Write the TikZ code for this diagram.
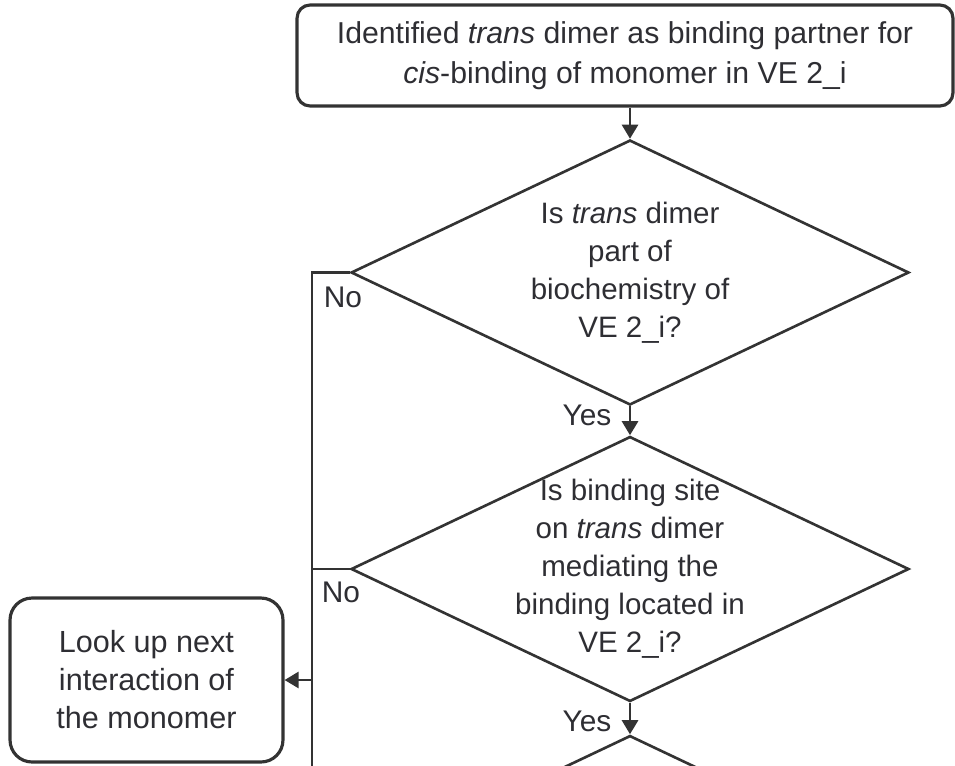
\documentclass[tikz,border=0pt]{standalone}
\usepackage{fontspec}
\setmainfont{Liberation Sans}
\usetikzlibrary{shapes.geometric,arrows.meta}

\begin{document}
\begin{tikzpicture}[x=0.02cm, y=-0.02cm, >={Triangle[width=0.32cm,length=0.28cm]},
		box/.style={draw=linegray, line width=1.8pt, rounded corners=0.26cm, align=center, text=textgray, font=\fontsize{17.2}{23}\selectfont},
		decision/.style={diamond, aspect=2.1, draw=linegray, line width=1.5pt, inner sep=-12pt, minimum width=11.16cm, minimum height=5.3cm, align=center, text=textgray, font=\fontsize{16.8}{21.6}\selectfont},
		lbl/.style={inner sep=0pt, text=textgray, font=\fontsize{17}{20}\selectfont}]
			\definecolor{linegray}{rgb}{0.2,0.2,0.2}
				\definecolor{textgray}{rgb}{0.18,0.18,0.2}
				
				\useasboundingbox (0,0) rectangle (955,765);
				\clip (0,0) rectangle (955,765);
				
				\node[box, minimum width=13.12cm, minimum height=2.02cm] (start) at (625,55.5){Identified \textit{trans} dimer as binding partner for\\ \textit{cis}-binding of monomer in VE 2\_i};
				
				\node[decision] (dia1) at (630,272.5){Is \textit{trans} dimer\\ part of\\ biochemistry of\\ VE 2\_i?};
				\node[decision] (dia2) at (630,569){Is binding site\\ on \textit{trans} dimer\\ mediating the\\ binding located in\\ VE 2\_i?};
				\node[decision] (dia3) at (630,868){};
				
				\node[box, rounded corners=0.44cm, minimum width=5.46cm, minimum height=3.28cm, font=\fontsize{17.4}{21.6}\selectfont] (look) at (146.5,680){Look up next\\ interaction of\\ the monomer};
				
				\coordinate (nocol) at (312,800);
				
				\draw[line width=1.5pt, draw=linegray, ->] (start.south -| dia1.north)--(dia1.north);
				\draw[line width=1.5pt, draw=linegray, ->] (dia1.south)--(dia2.north);
				\draw[line width=1.5pt, draw=linegray, ->] (dia2.south)--(dia3.north);
				
				\draw[line width=1.5pt, draw=linegray] (dia1.west)--(dia1.west -| nocol)--(nocol);
				\draw[line width=1.5pt, draw=linegray] (dia2.west)--(dia2.west -| nocol);
				\draw[line width=1.5pt, draw=linegray, ->] (look.east -| nocol)--(look.east);
				
				\node[lbl] (no1) at (343,297){No};
				\node[lbl] (no2) at (341,592){No};
				\node[lbl] (yes1) at (587,415){Yes};
				\node[lbl] (yes2) at (587,721){Yes};
		\end{tikzpicture}
\end{document}
